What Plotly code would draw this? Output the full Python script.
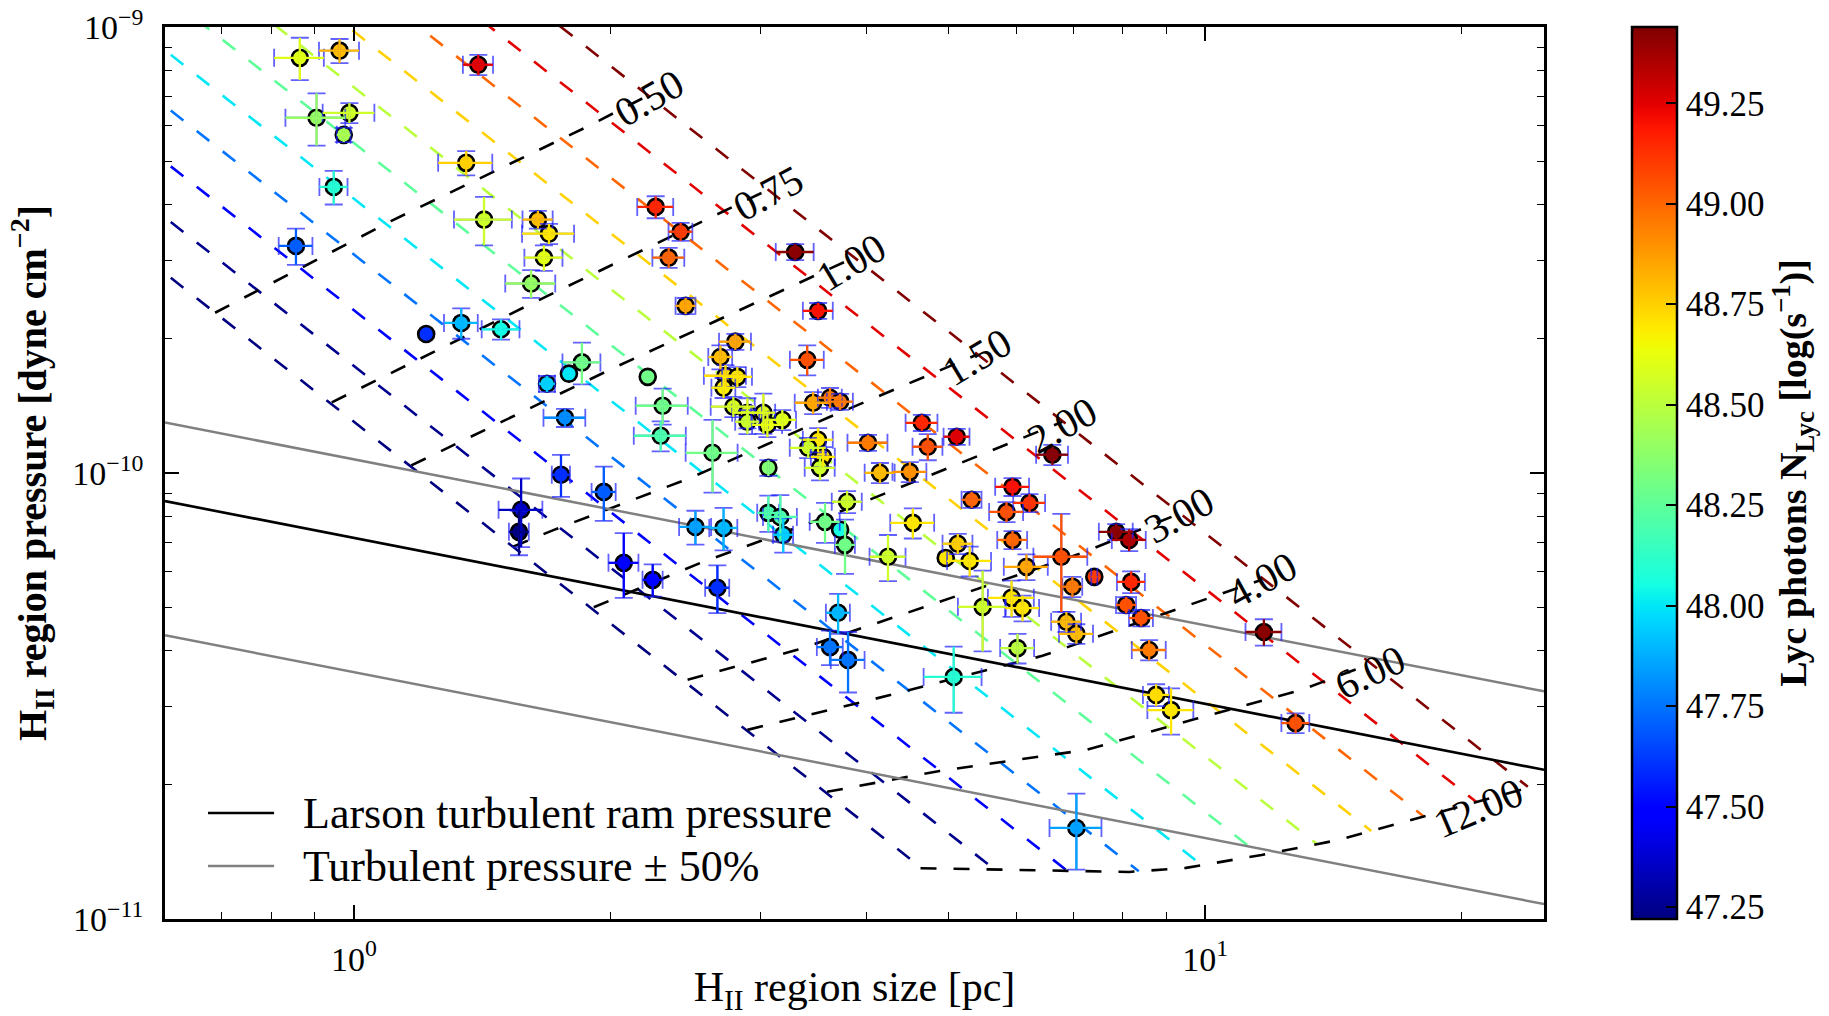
import numpy as np
import plotly.graph_objects as go

# ---------------- data ----------------
size_pc = [0.864, 0.962, 1.400, 0.904, 0.988, 0.973, 1.355, 0.947, 0.855, 1.422,
           1.645, 1.695, 1.672, 1.615, 1.216, 1.337, 1.489, 1.853, 1.789, 1.686,
           1.770, 2.214, 2.305, 2.293, 2.262, 2.420, 2.343, 2.453, 3.299, 3.510,
           2.806, 2.695, 3.408, 2.732, 2.821, 2.718, 2.791, 2.899, 2.899, 3.027,
           3.060, 3.186, 3.463, 3.625, 3.725, 4.647, 5.107, 4.722, 4.017, 2.638,
           3.510, 3.417, 3.557, 3.528, 3.068, 4.149, 4.498, 5.317, 3.796, 4.535,
           3.068, 3.169, 3.194, 3.576, 3.725, 3.775, 2.519, 2.718, 4.240, 5.121,
           4.957, 5.289, 6.614, 5.938, 6.217, 5.842, 5.938, 6.776, 6.166, 7.408,
           6.982, 7.860, 8.141, 8.185, 8.075, 8.409, 5.477, 5.923, 6.101, 6.870,
           7.058, 6.019, 8.593, 11.72, 8.757, 9.118, 12.77, 5.065, 7.058, 1.751,
           1.966, 1.572, 1.563, 2.075, 2.244, 2.673, 3.625, 3.806, 3.705]
size_err_pc = [0.058, 0.052, 0.057, 0.073, 0.069, 0.018, 0.099, 0.036, 0.039, 0.111,
               0.067, 0.119, 0.086, 0.109, 0.0, 0.061, 0.076, 0.095, 0.0, 0.036,
               0.100, 0.0, 0.162, 0.161, 0.110, 0.078, 0.101, 0.066, 0.169, 0.142,
               0.121, 0.087, 0.156, 0.155, 0.114, 0.088, 0.166, 0.117, 0.094, 0.098,
               0.124, 0.120, 0.168, 0.117, 0.131, 0.200, 0.179, 0.191, 0.217, 0.185,
               0.142, 0.166, 0.115, 0.143, 0.0, 0.168, 0.206, 0.143, 0.154, 0.269,
               0.091, 0.145, 0.086, 0.145, 0.0, 0.102, 0.109, 0.103, 0.206, 0.207,
               0.0, 0.314, 0.285, 0.272, 0.268, 0.268, 0.240, 0.493, 0.366, 0.060,
               0.188, 0.360, 0.373, 0.309, 0.218, 0.272, 0.354, 0.367, 0.280, 0.278,
               0.324, 0.276, 0.394, 0.569, 0.307, 0.566, 0.482, 0.396, 0.495, 0.043,
               0.064, 0.093, 0.042, 0.084, 0.061, 0.087, 0.127, 0.174, 0.120]
pressure = [8.53e-10, 8.85e-10, 8.23e-10, 6.26e-10, 6.42e-10, 5.73e-10, 4.96e-10, 4.38e-10, 3.23e-10, 3.70e-10,
            3.70e-10, 3.44e-10, 3.04e-10, 2.66e-10, 2.05e-10, 2.17e-10, 2.10e-10, 1.77e-10, 1.67e-10, 1.585e-10,
            1.33e-10, 1.643e-10, 1.415e-10, 1.212e-10, 3.95e-10, 3.475e-10, 3.04e-10, 2.37e-10, 3.13e-10, 2.31e-10,
            1.97e-10, 1.82e-10, 1.794e-10, 1.652e-10, 1.643e-10, 1.553e-10, 1.408e-10, 1.365e-10, 1.303e-10, 1.365e-10,
            1.282e-10, 1.316e-10, 1.437e-10, 1.475e-10, 1.445e-10, 1.296e-10, 1.206e-10, 1.145e-10, 1.169e-10, 1.110e-10,
            1.187e-10, 1.139e-10, 1.087e-10, 1.027e-10, 1.027e-10, 1.001e-10, 1.006e-10, 8.71e-11, 8.62e-11, 7.73e-11,
            8.14e-11, 7.97e-11, 7.27e-11, 7.77e-11, 7.46e-11, 6.90e-11, 7.57e-11, 7.53e-11, 6.49e-11, 6.94e-11,
            6.45e-11, 6.35e-11, 1.099e-10, 9.31e-11, 8.57e-11, 8.18e-11, 7.08e-11, 6.49e-11, 6.16e-11, 5.85e-11,
            5.56e-11, 7.38e-11, 7.08e-11, 5.70e-11, 5.06e-11, 4.73e-11, 5.01e-11, 5.25e-11, 4.98e-11, 4.64e-11,
            4.36e-11, 4.05e-11, 4.01e-11, 4.40e-11, 3.18e-11, 2.94e-11, 2.75e-11, 3.49e-11, 1.60e-11, 9.91e-11,
            9.07e-11, 8.27e-11, 7.38e-11, 6.29e-11, 5.76e-11, 5.53e-11, 4.07e-11, 3.81e-11, 4.86e-11]
pressure_err = [9.3e-11, 5.5e-11, 4.3e-11, 8.4e-11, 3.3e-11, 2.1e-11, 3.1e-11, 3.8e-11, 3.0e-11, 4.6e-11,
                1.7e-11, 1.8e-11, 2.0e-11, 1.9e-11, 0.0, 1.7e-11, 1.1e-11, 1.9e-11, 0.0, 6.5e-12,
                6.2e-12, 0.0, 1.31e-11, 9.4e-12, 2.24e-11, 1.61e-11, 1.57e-11, 9.8e-12, 1.29e-11, 9.5e-12,
                8.1e-12, 1.13e-11, 1.39e-11, 9.4e-12, 8.5e-12, 8.0e-12, 7.3e-12, 1.06e-11, 8.1e-12, 1.41e-11,
                7.9e-12, 6.8e-12, 8.2e-12, 7.6e-12, 6.0e-12, 5.4e-12, 5.0e-12, 7.7e-12, 4.8e-12, 2.06e-11,
                7.4e-12, 5.9e-12, 5.6e-12, 6.4e-12, 4.2e-12, 5.2e-12, 5.2e-12, 3.6e-12, 4.9e-12, 6.0e-12,
                7.6e-12, 9.5e-12, 6.4e-12, 8.0e-12, 0.0, 9.6e-12, 6.6e-12, 8.2e-12, 7.7e-12, 3.6e-12,
                0.0, 4.9e-12, 5.7e-12, 4.3e-12, 4.0e-12, 4.2e-12, 3.3e-12, 1.61e-11, 4.1e-12, 0.0,
                2.9e-12, 3.0e-12, 4.0e-12, 3.2e-12, 2.1e-12, 2.0e-12, 1.03e-11, 4.9e-12, 3.3e-12, 2.4e-12,
                2.2e-12, 3.1e-12, 2.1e-12, 3.0e-12, 1.8e-12, 3.5e-12, 1.4e-12, 5.9e-12, 3.1e-12, 1.07e-11,
                1.26e-11, 1.45e-11, 8.4e-12, 1.04e-11, 4.8e-12, 6.8e-12, 3.6e-12, 5.9e-12, 5.0e-12]
log_nlyc = [48.60, 48.80, 49.25, 48.40, 48.55, 48.45, 48.75, 48.10, 47.70, 48.55,
            48.80, 48.70, 48.60, 48.40, 47.60, 47.90, 48.05, 48.30, 48.00, 47.95,
            47.80, 48.30, 48.30, 48.20, 49.15, 49.10, 49.00, 48.85, 49.42, 49.20,
            48.85, 48.80, 49.05, 48.72, 48.70, 48.68, 48.58, 48.60, 48.55, 48.60,
            48.62, 48.60, 48.85, 48.95, 48.95, 49.15, 49.25, 49.05, 48.95, 48.30,
            48.70, 48.55, 48.70, 48.55, 48.35, 48.80, 48.90, 49.00, 48.55, 48.70,
            48.20, 48.20, 47.95, 48.30, 48.05, 48.30, 47.85, 47.90, 48.55, 48.75,
            48.70, 48.70, 49.42, 49.20, 49.12, 49.05, 49.00, 49.05, 48.85, 49.10,
            48.95, 49.42, 49.35, 49.15, 49.05, 49.05, 48.55, 48.70, 48.70, 48.80,
            48.80, 48.50, 48.95, 49.42, 48.72, 48.70, 49.05, 48.10, 47.85, 47.60,
            47.70, 47.35, 47.22, 47.50, 47.50, 47.60, 47.75, 47.75, 47.90]

# model lines of constant N_Lyc (P at 1 pc, slope -1.5 in log-log)
nlyc_levels = [47.00, 47.25, 47.50, 47.75, 48.00, 48.25, 48.50, 48.75, 49.00, 49.25, 49.50]
level_p_at_1pc = [1.303e-10, 1.738e-10, 2.317e-10, 3.090e-10, 4.121e-10, 5.495e-10,
                  7.328e-10, 9.772e-10, 1.303e-9, 1.738e-9, 2.317e-9]
level_slope = -1.5

# black dashed model curves
age_labels = ["0.50", "0.75", "1.00", "1.50", "2.00", "3.00", "4.00", "6.00", "12.00"]
age_curve_r = [
    [0.687, 1.107, 1.878, 2.201],
    [0.942, 1.615, 3.084],
    [1.168, 2.020, 3.842],
    [1.538, 1.718, 2.486, 3.625, 5.390],
    [1.913, 2.554, 3.695, 5.890, 6.795],
    [2.466, 3.317, 4.838, 7.173, 9.316],
    [2.899, 3.963, 6.439, 9.367, 11.65],
    [3.596, 4.876, 7.251, 9.752, 12.98, 15.63],
    [4.630, 8.140, 9.493, 11.65, 14.34, 17.46, 23.93],
]
age_curve_p = [
    [2.287e-10, 3.677e-10, 5.972e-10, 6.975e-10],
    [1.440e-10, 2.395e-10, 4.338e-10],
    [1.040e-10, 1.721e-10, 3.022e-10],
    [6.832e-11, 7.457e-11, 9.754e-11, 1.337e-10, 1.841e-10],
    [5.000e-11, 6.287e-11, 8.141e-11, 1.168e-10, 1.302e-10],
    [3.438e-11, 4.014e-11, 5.115e-11, 6.624e-11, 8.100e-11],
    [2.655e-11, 3.068e-11, 3.891e-11, 4.985e-11, 5.762e-11],
    [1.928e-11, 2.148e-11, 2.394e-11, 2.811e-11, 3.264e-11, 3.733e-11],
    [1.300e-11, 1.275e-11, 1.302e-11, 1.392e-11, 1.504e-11, 1.668e-11, 1.967e-11],
]
age_label_r = [2.219, 3.066, 3.837, 5.389, 6.795, 9.316, 11.65, 15.63, 20.92]
age_label_p = [6.94e-10, 4.25e-10, 2.977e-10, 1.822e-10, 1.282e-10, 8.06e-11, 5.76e-11, 3.58e-11, 1.775e-11]
age_label_angle = [-30, -28, -31, -31, -29, -29, -29, -26, -23]

larson_r = [0.6, 25.0]
larson_p = [8.65e-11, 2.16e-11]
turb_factors = [1.5, 0.5]

cbar_ticks = [47.25, 47.50, 47.75, 48.00, 48.25, 48.50, 48.75, 49.00, 49.25]
CMIN, CMAX = 47.22, 49.44

FONT = "Liberation Serif, Times New Roman, serif"


# ---------------- helpers ----------------
def jet(v):
    v = float(np.clip(v, 0.0, 1.0))
    r = np.interp(v, [0, 0.35, 0.66, 0.89, 1], [0, 0, 1, 1, 0.5])
    g = np.interp(v, [0, 0.125, 0.375, 0.64, 0.91, 1], [0, 0, 1, 1, 0, 0])
    b = np.interp(v, [0, 0.11, 0.34, 0.65, 1], [0.5, 1, 1, 0, 0])
    return "rgb(%d,%d,%d)" % (round(r * 255), round(g * 255), round(b * 255))


def ncolor(n):
    return jet((n - CMIN) / (CMAX - CMIN))


jet_scale = [[t, jet(t)] for t in np.linspace(0, 1, 81)]
DASH = "16px,17px"

fig = go.Figure()

# coloured dashed lines of constant N_Lyc, ending on the last black curve
lr_end_curve = np.log10(age_curve_r[-1])
lp_end_curve = np.log10(age_curve_p[-1])
for lev, p1 in zip(nlyc_levels, level_p_at_1pc):
    lr = np.linspace(np.log10(0.4), lr_end_curve[-1], 3000)
    lp = np.log10(p1) + level_slope * lr
    inside = lr >= lr_end_curve[0]
    diff = np.where(inside, lp - np.interp(lr, lr_end_curve, lp_end_curve), 1.0)
    idx = np.where(diff < 0)[0]
    if len(idx):
        j = idx[0]
        t = diff[j - 1] / (diff[j - 1] - diff[j])
        lr_stop = lr[j - 1] + t * (lr[j] - lr[j - 1])
    else:
        lr_stop = lr[-1]
    xs = [10 ** lr[0], 10 ** lr_stop]
    ys = [10 ** (np.log10(p1) + level_slope * lr[0]), 10 ** (np.log10(p1) + level_slope * lr_stop)]
    fig.add_trace(go.Scatter(x=xs, y=ys, mode="lines",
                             line=dict(color=ncolor(lev), width=2.6, dash=DASH),
                             showlegend=False, hoverinfo="skip"))

# black dashed curves
for cr, cp in zip(age_curve_r, age_curve_p):
    fig.add_trace(go.Scatter(x=cr, y=cp, mode="lines",
                             line=dict(color="black", width=2.6, dash=DASH),
                             showlegend=False, hoverinfo="skip"))

# Larson turbulent pressure and +-50%
for f in turb_factors:
    fig.add_trace(go.Scatter(x=larson_r, y=[p * f for p in larson_p], mode="lines",
                             line=dict(color="rgb(128,128,128)", width=2.5),
                             showlegend=False, hoverinfo="skip"))
fig.add_trace(go.Scatter(x=larson_r, y=larson_p, mode="lines",
                         line=dict(color="black", width=2.6),
                         showlegend=False, hoverinfo="skip"))

# markers
fig.add_trace(go.Scatter(
    x=size_pc, y=pressure, mode="markers",
    marker=dict(size=16, color=log_nlyc, colorscale=jet_scale, cmin=CMIN, cmax=CMAX,
                line=dict(color="black", width=2.6),
                colorbar=dict(
                    x=(1632 - 165) / 1379, xanchor="left", xref="paper",
                    y=0.5, yanchor="middle", len=1.0, lenmode="fraction",
                    xpad=0, ypad=0,
                    thickness=45, thicknessmode="pixels",
                    outlinewidth=2.5, outlinecolor="black",
                    tickmode="array", tickvals=cbar_ticks,
                    ticktext=["%.2f" % v for v in cbar_ticks],
                    ticks="inside", ticklen=12, tickwidth=2, tickcolor="black",
                    tickfont=dict(family=FONT, size=35, color="black"),
                    title=dict(text="<b>Lyc photons N<sub>Lyc</sub> [log(s<sup>−1</sup>)]</b>",
                               side="right", font=dict(family=FONT, size=38, color="black")),
                )),
    showlegend=False, hoverinfo="skip"))

# blue caps (semi-transparent)
CAP = "rgba(30,30,255,0.7)"
ix = [i for i in range(len(size_pc)) if size_err_pc[i] > 0]
fig.add_trace(go.Scatter(
    x=[size_pc[i] for i in ix], y=[pressure[i] for i in ix], mode="markers",
    marker=dict(size=1, opacity=0),
    error_x=dict(type="data", array=[size_err_pc[i] for i in ix], color=CAP, thickness=1.8, width=9),
    showlegend=False, hoverinfo="skip"))
iy = [i for i in range(len(size_pc)) if pressure_err[i] > 0]
fig.add_trace(go.Scatter(
    x=[size_pc[i] for i in iy], y=[pressure[i] for i in iy], mode="markers",
    marker=dict(size=1, opacity=0),
    error_y=dict(type="data", array=[pressure_err[i] for i in iy], color=CAP, thickness=1.8, width=9),
    showlegend=False, hoverinfo="skip"))

# coloured error bar stems drawn over the markers
for i in range(len(size_pc)):
    if size_err_pc[i] == 0 and pressure_err[i] == 0:
        continue
    c = ncolor(log_nlyc[i])
    fig.add_trace(go.Scatter(
        x=[size_pc[i]], y=[pressure[i]], mode="markers",
        marker=dict(size=1, opacity=0),
        error_x=dict(type="data", array=[size_err_pc[i]], color=c, thickness=2.3, width=0,
                     visible=size_err_pc[i] > 0),
        error_y=dict(type="data", array=[pressure_err[i]], color=c, thickness=2.3, width=0,
                     visible=pressure_err[i] > 0),
        showlegend=False, hoverinfo="skip"))

# contour labels
annotations = []
for lab, r, p, ang in zip(age_labels, age_label_r, age_label_p, age_label_angle):
    annotations.append(dict(x=np.log10(r), y=np.log10(p), xref="x", yref="y", text=lab,
                            textangle=ang, showarrow=False,
                            font=dict(family=FONT, size=41, color="black")))

# legend (drawn inside the axes, lower left)
shapes = []
leg_items = [("Larson turbulent ram pressure", "black", 0.1188),
             ("Turbulent pressure ± 50%", "rgb(128,128,128)", 0.0594)]
for txt, col, yy in leg_items:
    shapes.append(dict(type="line", xref="paper", yref="paper", x0=0.0312, x1=0.0791,
                       y0=yy, y1=yy, line=dict(color=col, width=2.6)))
    annotations.append(dict(x=0.0986, y=yy, xref="paper", yref="paper", text=txt,
                            xanchor="left", yanchor="middle", showarrow=False,
                            font=dict(family=FONT, size=44, color="black")))

x_minor = [0.6, 0.7, 0.8, 0.9, 2, 3, 4, 5, 6, 7, 8, 9, 20]
y_minor = [k * 1e-11 for k in range(2, 10)] + [k * 1e-10 for k in range(2, 10)]

fig.update_layout(
    width=1829, height=1016,
    margin=dict(l=165, r=285, t=27, b=97, autoexpand=False),
    paper_bgcolor="white", plot_bgcolor="white",
    font=dict(family=FONT, color="black"),
    showlegend=False,
    annotations=annotations, shapes=shapes,
    xaxis=dict(
        type="log", range=[np.log10(0.6), np.log10(25)], automargin=False,
        showline=True, linecolor="black", linewidth=2.5, mirror="allticks",
        showgrid=False, zeroline=False,
        tickmode="array", tickvals=[1, 10], ticktext=["10<sup>0</sup>", "10<sup>1</sup>"],
        ticks="inside", ticklen=14, tickwidth=1.8, tickcolor="black",
        tickfont=dict(family=FONT, size=34), ticklabelstandoff=8,
        minor=dict(tickmode="array", tickvals=x_minor, ticks="inside", ticklen=7,
                   tickwidth=1.4, tickcolor="black", showgrid=False),
        title=dict(text="H<sub>II</sub> region size [pc]", standoff=13,
                   font=dict(family=FONT, size=42)),
    ),
    yaxis=dict(
        type="log", range=[-11, -9], automargin=False,
        showline=True, linecolor="black", linewidth=2.5, mirror="allticks",
        showgrid=False, zeroline=False,
        tickmode="array", tickvals=[1e-11, 1e-10, 1e-9],
        ticktext=["10<sup>−11</sup>", "10<sup>−10</sup>", "10<sup>−9</sup>"],
        ticks="inside", ticklen=14, tickwidth=1.8, tickcolor="black",
        tickfont=dict(family=FONT, size=34), ticklabelstandoff=12,
        minor=dict(tickmode="array", tickvals=y_minor, ticks="inside", ticklen=7,
                   tickwidth=1.4, tickcolor="black", showgrid=False),
        title=dict(text="<b>H<sub>II</sub> region pressure [dyne cm<sup>−2</sup>]</b>", standoff=14,
                   font=dict(family=FONT, size=40)),
    ),
)

fig.write_html("out.html")
